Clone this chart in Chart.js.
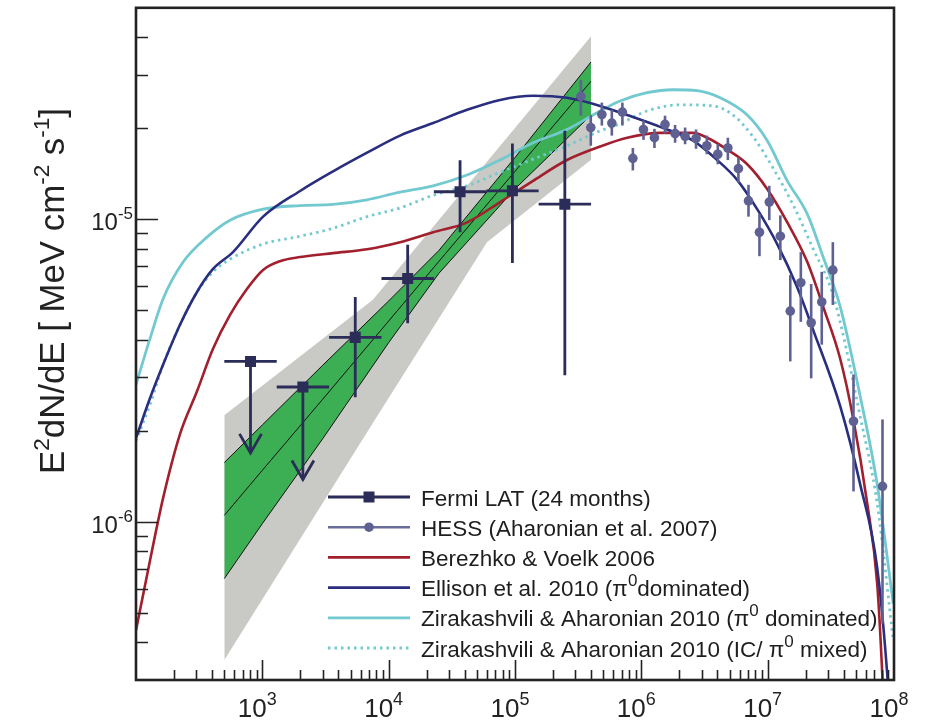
<!DOCTYPE html>
<html>
<head>
<meta charset="utf-8">
<script src="https://cdn.jsdelivr.net/npm/chart.js@4.4.0/dist/chart.umd.min.js"></script>
<style>
  html, body { margin: 0; padding: 0; background: #fff; }
  canvas { display: block; }
</style>
</head>
<body>
<canvas id="sed" width="928" height="725"></canvas>
<script>
// E^2 dN/dE spectrum (MeV cm^-2 s^-1) vs energy (MeV)

// Fermi LAT, 24 months (first two bins are upper limits)
const fermiE   = [806, 2094, 5440, 14140, 36740, 95400, 248000];
const fermiElo = [500, 1300, 3375, 8770, 22800, 59200, 153800];
const fermiEhi = [1300, 3375, 8770, 22800, 59200, 153800, 400000];
const fermiF   = [3.39e-6, 2.79e-6, 4.07e-6, 6.37e-6, 1.233e-5, 1.242e-5, 1.122e-5];
const fermiHi  = [null, null, 5.53e-6, 8.23e-6, 1.567e-5, 1.78e-5, 1.96e-5];
const fermiLo  = [1.69e-6, 1.38e-6, 2.58e-6, 4.53e-6, 9.06e-6, 7.17e-6, 3.05e-6];
const fermiUL  = [true, true, false, false, false, false, false];

// HESS (Aharonian et al. 2007)
const hessE  = [3.32e5, 3.98e5, 4.87e5, 5.84e5, 7.08e5, 8.57e5, 1.04e6, 1.27e6, 1.54e6, 1.85e6, 2.22e6, 2.71e6, 3.30e6, 4.03e6,
                4.84e6, 5.87e6, 7.05e6, 8.61e6, 1.03e7, 1.26e7, 1.51e7, 1.83e7, 2.21e7, 2.68e7, 3.28e7, 4.78e7, 8.11e7];
const hessF  = [2.55e-5, 2.01e-5, 2.22e-5, 2.08e-5, 2.26e-5, 1.59e-5, 1.98e-5, 1.86e-5, 2.06e-5, 1.92e-5, 1.88e-5, 1.85e-5, 1.75e-5, 1.64e-5,
                1.72e-5, 1.47e-5, 1.15e-5, 9.06e-6, 1.14e-5, 8.79e-6, 4.97e-6, 6.17e-6, 4.55e-6, 5.33e-6, 6.79e-6, 2.15e-6, 1.31e-6];
const hessHi = [2.89e-5, 2.21e-5, 2.43e-5, 2.30e-5, 2.43e-5, 1.72e-5, 2.12e-5, 1.99e-5, 2.20e-5, 2.05e-5, 2.01e-5, 1.98e-5, 1.89e-5, 1.77e-5,
                1.86e-5, 1.60e-5, 1.30e-5, 1.04e-5, 1.29e-5, 1.03e-5, 6.54e-6, 7.79e-6, 6.11e-6, 6.70e-6, 8.40e-6, 3.07e-6, 2.18e-6];
const hessLo = [2.20e-5, 1.75e-5, 2.04e-5, 1.89e-5, 2.04e-5, 1.45e-5, 1.83e-5, 1.72e-5, 1.92e-5, 1.79e-5, 1.77e-5, 1.71e-5, 1.64e-5, 1.52e-5,
                1.57e-5, 1.32e-5, 1.02e-5, 7.55e-6, 9.93e-6, 7.33e-6, 3.39e-6, 4.58e-6, 2.98e-6, 3.85e-6, 5.21e-6, 1.26e-6, 4.61e-7];

// Fermi power-law fit: statistical (green) and systematic (grey) bands
const bandE   = [500, 1000, 3000, 10000, 25000, 100000, 400000];
const bandHi  = [1.57e-6, 2.09e-6, 3.29e-6, 5.37e-6, 7.89e-6, 1.60e-5, 3.31e-5];
const bandMid = [1.05e-6, 1.48e-6, 2.54e-6, 4.61e-6, 7.26e-6, 1.44e-5, 2.86e-5];
const bandLo  = [6.49e-7, 9.86e-7, 1.88e-6, 3.91e-6, 6.63e-6, 1.26e-5, 2.21e-5];
const sysE    = [500, 7500, 60000, 400000];
const sysHi   = [2.25e-6, 5.42e-6, 1.55e-5, 4.03e-5];
const sysLo   = [3.49e-7, 2.12e-6, 8.40e-6, 1.574e-5];

// Models
const bvE = [100, 129, 164, 223, 304, 407, 555, 757, 1014, 1380, 1991, 3631, 6745, 12300, 22490, 41780, 76210, 1.39e5,
             2.58e5, 4.72e5, 7.73e5, 1.41e6, 2.57e6, 3.32e6, 4.78e6, 6.89e6, 9.91e6, 1.43e7, 2.06e7, 2.75e7, 3.75e7,
             4.75e7, 6.14e7, 7.36e7, 8.07e7, 8.36e7];
const bvF = [4.38e-7, 7.44e-7, 1.20e-6, 1.95e-6, 2.70e-6, 3.73e-6, 4.83e-6, 5.89e-6, 6.80e-6, 7.27e-6, 7.50e-6, 7.73e-6,
             7.96e-6, 8.40e-6, 9.06e-6, 9.77e-6, 1.14e-5, 1.34e-5, 1.57e-5, 1.74e-5, 1.86e-5, 1.93e-5, 1.93e-5, 1.86e-5,
             1.70e-5, 1.52e-5, 1.26e-5, 9.77e-6, 7.22e-6, 5.14e-6, 3.46e-6, 2.20e-6, 1.15e-6, 6.25e-7, 3.16e-7, 2.2e-7];

const elE = [100, 129, 164, 223, 304, 407, 586, 1014, 1991, 3631, 6745, 12300, 22490, 41780, 76210, 1.39e5, 2.58e5,
             4.72e5, 7.73e5, 1.41e6, 2.57e6, 3.98e6, 5.73e6, 8.26e6, 1.19e7, 1.71e7, 2.29e7, 3.75e7, 5.40e7, 7.36e7,
             8.83e7, 9.33e7];
const elF = [1.89e-6, 2.56e-6, 3.31e-6, 4.48e-6, 5.75e-6, 6.85e-6, 7.79e-6, 1.02e-5, 1.24e-5, 1.44e-5, 1.66e-5, 1.89e-5,
             2.08e-5, 2.30e-5, 2.48e-5, 2.56e-5, 2.52e-5, 2.37e-5, 2.21e-5, 2.02e-5, 1.82e-5, 1.57e-5, 1.35e-5, 1.08e-5,
             8.28e-6, 5.97e-6, 4.31e-6, 2.41e-6, 1.33e-6, 7.06e-7, 3.16e-7, 2.2e-7];

const zpE = [100, 129, 164, 236, 365, 555, 1014, 1991, 3631, 6745, 12300, 22490, 41780, 76210, 1.39e5, 2.58e5, 4.72e5,
             6.79e5, 1.11e6, 1.79e6, 2.77e6, 4.21e6, 6.89e6, 9.91e6, 1.43e7, 2.06e7, 2.75e7, 3.75e7, 5.40e7, 7.36e7, 9.86e7];
const zpF = [2.84e-6, 4.03e-6, 5.46e-6, 7.22e-6, 8.73e-6, 9.93e-6, 1.08e-5, 1.11e-5, 1.12e-5, 1.16e-5, 1.23e-5, 1.29e-5,
             1.40e-5, 1.57e-5, 1.79e-5, 1.98e-5, 2.28e-5, 2.46e-5, 2.62e-5, 2.68e-5, 2.66e-5, 2.52e-5, 2.21e-5, 1.82e-5,
             1.34e-5, 1.04e-5, 7.50e-6, 5.14e-6, 2.60e-6, 1.33e-6, 5.37e-7];

const zmE = [100, 129, 164, 223, 304, 407, 555, 1014, 1991, 3631, 6745, 12300, 22490, 41780, 76210, 1.39e5, 2.58e5,
             4.72e5, 6.79e5, 1.11e6, 2.03e6, 3.70e6, 5.33e6, 7.69e6, 1.11e7, 1.60e7, 2.30e7, 3.14e7, 3.75e7, 5.40e7,
             7.36e7, 9.86e7];
const zmF = [1.85e-6, 2.44e-6, 3.31e-6, 4.48e-6, 5.75e-6, 6.70e-6, 7.38e-6, 8.28e-6, 8.79e-6, 9.34e-6, 1.02e-5, 1.09e-5,
             1.20e-5, 1.29e-5, 1.43e-5, 1.58e-5, 1.75e-5, 1.96e-5, 2.07e-5, 2.28e-5, 2.39e-5, 2.37e-5, 2.21e-5, 1.87e-5,
             1.47e-5, 1.11e-5, 7.96e-6, 5.97e-6, 4.58e-6, 2.23e-6, 1.15e-6, 4.06e-7];

const xDecades = [3, 4, 5, 6, 7, 8];
const yDecades = [-6, -5];

const legendLabels = [
  [['Fermi LAT (24 months)', 0]],
  [['HESS (Aharonian et al. 2007)', 0]],
  [['Berezhko & Voelk 2006', 0]],
  [['Ellison et al. 2010 (\u03c0', 0], ['0', 1], ['dominated)', 0]],
  [['Zirakashvili & Aharonian 2010 (\u03c0', 0], ['0', 1], [' dominated)', 0]],
  [['Zirakashvili & Aharonian 2010 (IC/ \u03c0', 0], ['0', 1], [' mixed)', 0]]
];

const C = {
  fermi: '#2b2d58', hess: '#5f6192', red: '#a21f2d', navy: '#2a2e7e',
  cyan: '#72c9d0', green: '#3cae54', grey: '#c9c9c5', axis: '#222'
};
const FONT = '"Liberation Sans", Arial, Helvetica, sans-serif';

const pts = (xs, ys) => xs.map((x, i) => ({ x, y: ys[i] }));

// draw text with superscript parts: parts = [[text, isSup], ...]
function drawRich(ctx, parts, x, y, o) {
  let w = 0;
  parts.forEach(p => { ctx.font = (p[1] ? o.sup : o.size) + 'px ' + FONT; w += ctx.measureText(p[0]).width; });
  let cx = o.align === 'center' ? x - w / 2 : o.align === 'right' ? x - w : x;
  ctx.textAlign = 'left';
  ctx.textBaseline = 'alphabetic';
  parts.forEach(p => {
    ctx.font = (p[1] ? o.sup : o.size) + 'px ' + FONT;
    ctx.fillText(p[0], cx, p[1] ? y - o.rise : y);
    cx += ctx.measureText(p[0]).width;
  });
  return w;
}

const decor = {
  id: 'decor',
  beforeDatasetDraw(chart, args) {
    const ctx = chart.ctx, xs = chart.scales.x, ys = chart.scales.y;
    ctx.save();
    ctx.lineCap = 'butt';
    if (args.index === 0) {
      ctx.strokeStyle = C.fermi;
      ctx.lineWidth = 2.8;
      fermiE.forEach((e, i) => {
        const px = xs.getPixelForValue(e), py = ys.getPixelForValue(fermiF[i]);
        ctx.beginPath();
        ctx.moveTo(xs.getPixelForValue(fermiElo[i]), py);
        ctx.lineTo(xs.getPixelForValue(fermiEhi[i]), py);
        const top = fermiUL[i] ? py : ys.getPixelForValue(fermiHi[i]);
        const bot = ys.getPixelForValue(fermiLo[i]);
        ctx.moveTo(px, top);
        ctx.lineTo(px, bot);
        ctx.stroke();
        if (fermiUL[i]) {
          ctx.beginPath();
          ctx.moveTo(px - 11, bot - 19);
          ctx.lineTo(px, bot);
          ctx.lineTo(px + 11, bot - 19);
          ctx.stroke();
        }
      });
    }
    if (args.index === 1) {
      ctx.strokeStyle = C.hess;
      ctx.lineWidth = 2.6;
      hessE.forEach((e, i) => {
        const px = xs.getPixelForValue(e);
        ctx.beginPath();
        ctx.moveTo(px, ys.getPixelForValue(hessHi[i]));
        ctx.lineTo(px, ys.getPixelForValue(hessLo[i]));
        ctx.stroke();
      });
    }
    ctx.restore();
  },
  afterDraw(chart) {
    const ctx = chart.ctx, xs = chart.scales.x, ys = chart.scales.y;
    const a = chart.chartArea;
    ctx.save();
    ctx.fillStyle = C.axis;
    ctx.strokeStyle = C.axis;

    // ticks (inside the frame)
    ctx.lineWidth = 1.6;
    ctx.beginPath();
    for (let n = 2; n <= 7; n++) {
      for (let k = 1; k <= 9; k++) {
        const v = k * Math.pow(10, n);
        if (v <= xs.min || v >= xs.max) continue;
        const px = Math.round(xs.getPixelForValue(v)) + 0.5;
        ctx.moveTo(px, a.bottom);
        ctx.lineTo(px, a.bottom - (k === 1 ? 20 : 10));
      }
    }
    for (let n = -7; n <= -5; n++) {
      for (let k = 1; k <= 9; k++) {
        const v = k * Math.pow(10, n);
        if (v <= ys.min || v >= ys.max) continue;
        const py = Math.round(ys.getPixelForValue(v)) + 0.5;
        ctx.moveTo(a.left, py);
        ctx.lineTo(a.left + (k === 1 ? 22 : 12), py);
      }
    }
    ctx.stroke();

    // frame
    ctx.lineWidth = 2.6;
    ctx.strokeRect(a.left, a.top, a.right - a.left, a.bottom - a.top);

    // tick labels
    xDecades.forEach(n => {
      const px = xs.getPixelForValue(Math.pow(10, n));
      drawRich(ctx, [['10', 0], [String(n), 1]], px - 5, 717, { size: 26, sup: 18, rise: 12, align: 'center' });
    });
    yDecades.forEach(n => {
      const py = ys.getPixelForValue(Math.pow(10, n));
      drawRich(ctx, [['10', 0], [String(n), 1]], 133, py + 11, { size: 24, sup: 17, rise: 11, align: 'right' });
    });

    // y axis title, fitted to its span in the reference
    const title = [['E', 0], ['2', 1], ['dN/dE [ MeV cm', 0], ['-2', 1], [' s', 0], ['-1', 1], [']', 0]];
    let tw = 0;
    title.forEach(p => { ctx.font = (p[1] ? 22 : 34) + 'px ' + FONT; tw += ctx.measureText(p[0]).width; });
    const f = 366 / tw;
    ctx.save();
    ctx.translate(64, 291);
    ctx.rotate(-Math.PI / 2);
    drawRich(ctx, title, 0, 0, { size: 34 * f, sup: 22 * f, rise: 15 * f, align: 'center' });
    ctx.restore();

    // legend
    const styles = [
      { color: C.fermi, w: 2.8, marker: 'rect' },
      { color: '#6a6c9a', w: 2.6, marker: 'circle' },
      { color: C.red, w: 2.6 },
      { color: C.navy, w: 2.6 },
      { color: C.cyan, w: 2.8 },
      { color: C.cyan, w: 2.8, dash: [2.5, 4] }
    ];
    legendLabels.forEach((parts, i) => {
      const y = 497 + 30.2 * i, s = styles[i];
      ctx.save();
      ctx.strokeStyle = s.color;
      ctx.fillStyle = s.color;
      ctx.lineWidth = s.w;
      ctx.setLineDash(s.dash || []);
      ctx.beginPath();
      ctx.moveTo(328, y);
      ctx.lineTo(410, y);
      ctx.stroke();
      if (s.marker === 'rect') ctx.fillRect(363.5, y - 5.5, 11, 11);
      if (s.marker === 'circle') { ctx.fillStyle = C.hess; ctx.beginPath(); ctx.arc(369, y, 4.8, 0, Math.PI * 2); ctx.fill(); }
      ctx.restore();
      ctx.fillStyle = '#1e1e1e';
      drawRich(ctx, parts, 421, y + 8.5, { size: 22.5, sup: 17, rise: 10, align: 'left' });
    });
    ctx.restore();
  }
};

const curve = (data, color, extra) => Object.assign({
  data, borderColor: color, borderWidth: 2.6, pointRadius: 0, fill: false,
  cubicInterpolationMode: 'monotone', clip: 0
}, extra || {});

new Chart(document.getElementById('sed'), {
  type: 'line',
  data: {
    datasets: [
      // 0: Fermi points
      { data: pts(fermiE, fermiF), showLine: false, pointStyle: 'rect', pointRadius: 7.8,
        pointBackgroundColor: C.fermi, pointBorderColor: C.fermi, pointBorderWidth: 0 },
      // 1: HESS points
      { data: pts(hessE, hessF), showLine: false, pointStyle: 'circle', pointRadius: 4.8,
        pointBackgroundColor: C.hess, pointBorderColor: C.hess, pointBorderWidth: 0 },
      // 2-5: models
      curve(pts(elE, elF), C.navy),
      curve(pts(bvE, bvF), C.red),
      curve(pts(zpE, zpF), C.cyan, { borderWidth: 2.8 }),
      curve(pts(zmE, zmF), C.cyan, { borderWidth: 2.8, borderDash: [2.5, 4] }),
      // 6-8: statistical band
      { data: pts(bandE, bandMid), borderColor: '#111', borderWidth: 1, pointRadius: 0, fill: false, tension: 0 },
      { data: pts(bandE, bandHi), borderColor: '#111', borderWidth: 1, pointRadius: 0, fill: false, tension: 0 },
      { data: pts(bandE, bandLo), borderColor: '#111', borderWidth: 1, pointRadius: 0, tension: 0,
        fill: 7, backgroundColor: C.green },
      // 9-10: systematic band
      { data: pts(sysE, sysHi), borderWidth: 0, pointRadius: 0, fill: false, tension: 0 },
      { data: pts(sysE, sysLo), borderWidth: 0, pointRadius: 0, tension: 0, fill: 9, backgroundColor: C.grey }
    ]
  },
  options: {
    responsive: false,
    animation: false,
    events: [],
    layout: { padding: { left: 136, right: 34, top: 5, bottom: 45 } },
    scales: {
      x: { type: 'logarithmic', min: 100, max: 1e8, display: false },
      y: { type: 'logarithmic', min: 3e-7, max: 5e-5, display: false }
    },
    plugins: { legend: { display: false }, tooltip: { enabled: false } }
  },
  plugins: [decor]
});
</script>
</body>
</html>
